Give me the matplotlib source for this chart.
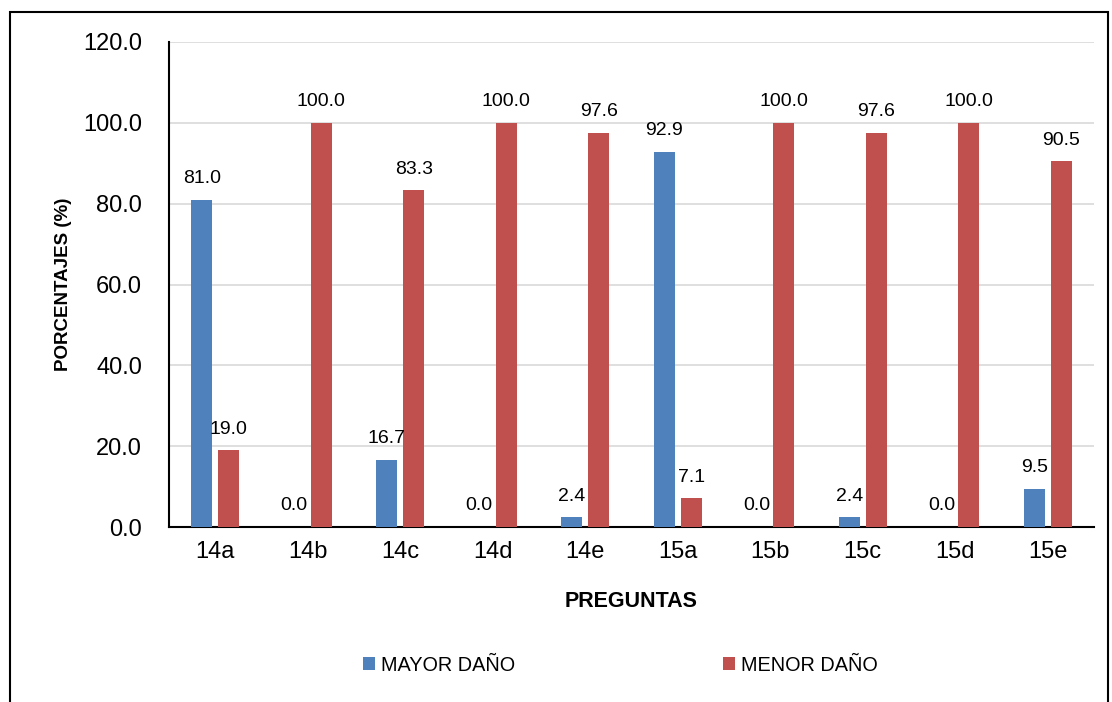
import numpy as np
import matplotlib
matplotlib.use("Agg")
import matplotlib.pyplot as plt
from matplotlib.patches import Rectangle

plt.rcParams['font.family'] = ['Liberation Sans Narrow', 'Liberation Sans', 'DejaVu Sans']

# datos
preguntas = ["14a", "14b", "14c", "14d", "14e", "15a", "15b", "15c", "15d", "15e"]
mayor_dano = [81.0, 0.0, 16.7, 0.0, 2.4, 92.9, 0.0, 2.4, 0.0, 9.5]
menor_dano = [19.0, 100.0, 83.3, 100.0, 97.6, 7.1, 100.0, 97.6, 100.0, 90.5]

azul = "#4f81bd"
rojo = "#c0504d"

fig = plt.figure(figsize=(11.12, 7.02), dpi=100)
ax = fig.add_axes([169 / 1112, 1 - 527 / 702, (1094 - 169) / 1112, (527 - 42) / 702])

x = np.arange(len(preguntas))
ancho = 0.227
desp = 0.146
b1 = ax.bar(x - desp, mayor_dano, ancho, color=azul, label="MAYOR DAÑO", zorder=3)
b2 = ax.bar(x + desp, menor_dano, ancho, color=rojo, label="MENOR DAÑO", zorder=3)

# etiquetas de valor sobre cada barra
for barras in (b1, b2):
    for b in barras:
        v = b.get_height()
        ax.annotate("%.1f" % v, (b.get_x() + b.get_width() / 2, v),
                    xytext=(0, 9), textcoords="offset points",
                    ha="center", va="bottom", fontsize=14)

ax.set_xlim(-0.5, len(preguntas) - 0.5)
ax.set_ylim(0, 120)
ax.set_yticks(np.arange(0, 121, 20))
ax.set_yticklabels(["%.1f" % t for t in np.arange(0, 121, 20)], fontsize=17)
ax.set_xticks(x)
ax.set_xticklabels(preguntas, fontsize=17)
ax.tick_params(axis="y", length=0, pad=19.5)
ax.tick_params(axis="x", length=0, pad=10)
ax.yaxis.grid(True, color="#d9d9d9", linewidth=1.2, zorder=0)
ax.set_axisbelow(True)
for s in ("top", "right"):
    ax.spines[s].set_visible(False)
ax.spines["left"].set_linewidth(1.5)
ax.spines["bottom"].set_linewidth(1.5)

ax.set_ylabel("PORCENTAJES (%)", fontsize=13.5, fontweight="bold", labelpad=8)
ax.set_xlabel("PREGUNTAS", fontsize=15.5, fontweight="bold", labelpad=20)

ax.legend(loc="center", bbox_to_anchor=(0.488, -0.285), ncol=2, frameon=False,
          fontsize=14.3, handlelength=0.6, handleheight=0.6, handletextpad=0.3,
          columnspacing=10.5)

# marco exterior
fig.patches.append(Rectangle((10 / 1112, -0.05), (1108 - 10) / 1112, 1.05 - 12 / 702,
                             transform=fig.transFigure, fill=False,
                             edgecolor="black", linewidth=1.5))

fig.savefig("out.png", dpi=100)
